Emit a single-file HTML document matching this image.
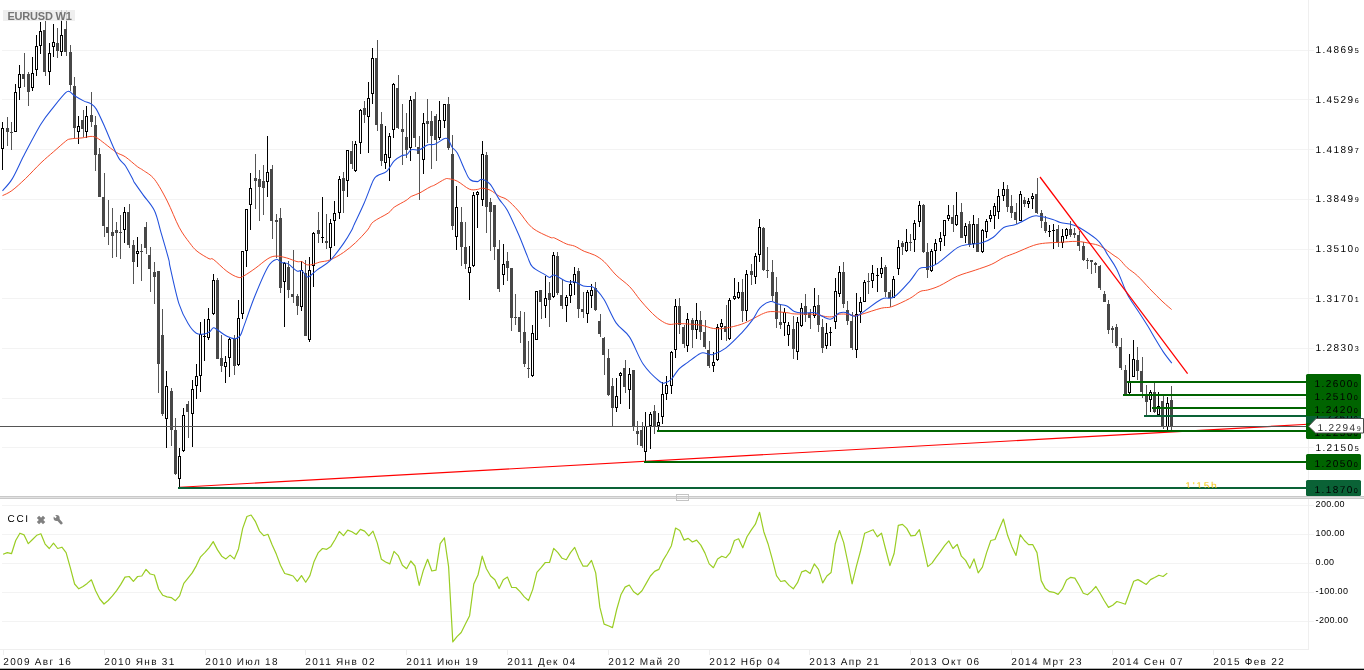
<!DOCTYPE html>
<html><head><meta charset="utf-8"><title>EURUSD W1</title>
<style>
html,body{margin:0;padding:0;background:#fff;}
body{width:1364px;height:670px;overflow:hidden;position:relative;font-family:"Liberation Sans",sans-serif;}
#c{position:absolute;left:0;top:0;width:1364px;height:670px;overflow:hidden;background:#fff;}
#tx{position:absolute;left:0;top:0;width:1364px;height:670px;filter:grayscale(1);}
.pl{position:absolute;text-rendering:geometricPrecision;font-size:10px;line-height:14px;height:14px;letter-spacing:1.44px;white-space:nowrap;color:#000;}
.pl .sm{font-size:7.2px;letter-spacing:0;margin-left:0px;}
.cl{position:absolute;font-size:9px;line-height:12px;height:12px;white-space:nowrap;color:#000;letter-spacing:0.3px;}
.dl{position:absolute;text-rendering:geometricPrecision;font-size:10px;line-height:13px;height:13px;letter-spacing:1.3px;white-space:nowrap;color:#111;}
#ttl{position:absolute;left:3px;top:10px;width:72px;height:11px;background:rgba(236,236,236,0.85);}
#ttl span{position:absolute;left:4.5px;top:0px;font-size:11px;line-height:13px;font-weight:bold;color:#757575;white-space:nowrap;letter-spacing:-0.22px;}
#cci{position:absolute;text-rendering:geometricPrecision;left:7.6px;top:513px;font-size:10px;line-height:13px;letter-spacing:1.6px;color:#000;}
#tm{position:absolute;text-rendering:geometricPrecision;left:1185.6px;top:480px;font-size:10px;line-height:13px;letter-spacing:1.75px;color:#f5c400;height:8px;overflow:hidden;}
#bb{position:absolute;left:0;top:668px;width:1364px;height:2px;background:#000;}
</style></head><body><div id="c">
<svg width="1364" height="670" viewBox="0 0 1364 670" style="position:absolute;left:0;top:0">
<g shape-rendering="crispEdges" fill="#f3f3f3">
<rect x="2" y="50" width="1312" height="1"/>
<rect x="2" y="99" width="1312" height="1"/>
<rect x="2" y="149" width="1312" height="1"/>
<rect x="2" y="199" width="1312" height="1"/>
<rect x="2" y="249" width="1312" height="1"/>
<rect x="2" y="298" width="1312" height="1"/>
<rect x="2" y="348" width="1312" height="1"/>
<rect x="2" y="398" width="1312" height="1"/>
<rect x="2" y="447" width="1312" height="1"/>
<rect x="2" y="505" width="1312" height="1"/>
<rect x="2" y="534" width="1312" height="1"/>
<rect x="2" y="563" width="1312" height="1"/>
<rect x="2" y="592" width="1312" height="1"/>
<rect x="2" y="621" width="1312" height="1"/>
<rect x="1308" y="0" width="1" height="650" fill="#efefef"/>
<rect x="0" y="649" width="1309" height="1" fill="#efefef"/>
<rect x="3" y="649" width="1" height="6" fill="#efefef"/>
<rect x="104" y="649" width="1" height="6" fill="#efefef"/>
<rect x="205" y="649" width="1" height="6" fill="#efefef"/>
<rect x="305" y="649" width="1" height="6" fill="#efefef"/>
<rect x="406" y="649" width="1" height="6" fill="#efefef"/>
<rect x="507" y="649" width="1" height="6" fill="#efefef"/>
<rect x="608" y="649" width="1" height="6" fill="#efefef"/>
<rect x="709" y="649" width="1" height="6" fill="#efefef"/>
<rect x="809" y="649" width="1" height="6" fill="#efefef"/>
<rect x="910" y="649" width="1" height="6" fill="#efefef"/>
<rect x="1011" y="649" width="1" height="6" fill="#efefef"/>
<rect x="1112" y="649" width="1" height="6" fill="#efefef"/>
<rect x="1213" y="649" width="1" height="6" fill="#efefef"/>
</g>
<g shape-rendering="crispEdges">
<rect x="2" y="122" width="1" height="6" fill="#000"/>
<rect x="2" y="149" width="1" height="21" fill="#000"/>
<rect x="1" y="128" width="3" height="21" fill="#000"/>
<rect x="2" y="129" width="1" height="19" fill="#fff"/>
<rect x="7" y="117" width="1" height="29" fill="#555555"/>
<rect x="6" y="128" width="3" height="4" fill="#474747"/>
<rect x="11" y="122" width="1" height="28" fill="#555555"/>
<rect x="10" y="132" width="3" height="1" fill="#474747"/>
<rect x="15" y="84" width="1" height="8" fill="#000"/>
<rect x="14" y="92" width="3" height="40" fill="#000"/>
<rect x="15" y="93" width="1" height="38" fill="#fff"/>
<rect x="19" y="65" width="1" height="9" fill="#000"/>
<rect x="19" y="88" width="1" height="12" fill="#000"/>
<rect x="18" y="74" width="3" height="14" fill="#000"/>
<rect x="19" y="75" width="1" height="12" fill="#fff"/>
<rect x="24" y="53" width="1" height="34" fill="#555555"/>
<rect x="22" y="74" width="3" height="5" fill="#474747"/>
<rect x="28" y="72" width="1" height="34" fill="#555555"/>
<rect x="27" y="74" width="3" height="18" fill="#474747"/>
<rect x="32" y="57" width="1" height="16" fill="#000"/>
<rect x="32" y="88" width="1" height="3" fill="#000"/>
<rect x="31" y="73" width="3" height="15" fill="#000"/>
<rect x="32" y="74" width="1" height="13" fill="#fff"/>
<rect x="36" y="35" width="1" height="11" fill="#000"/>
<rect x="36" y="70" width="1" height="6" fill="#000"/>
<rect x="35" y="46" width="3" height="24" fill="#000"/>
<rect x="36" y="47" width="1" height="22" fill="#fff"/>
<rect x="40" y="22" width="1" height="9" fill="#000"/>
<rect x="40" y="46" width="1" height="8" fill="#000"/>
<rect x="39" y="31" width="3" height="15" fill="#000"/>
<rect x="40" y="32" width="1" height="13" fill="#fff"/>
<rect x="45" y="21" width="1" height="55" fill="#555555"/>
<rect x="43" y="30" width="3" height="42" fill="#474747"/>
<rect x="49" y="43" width="1" height="10" fill="#000"/>
<rect x="49" y="72" width="1" height="13" fill="#000"/>
<rect x="48" y="53" width="3" height="19" fill="#000"/>
<rect x="49" y="54" width="1" height="17" fill="#fff"/>
<rect x="53" y="24" width="1" height="18" fill="#000"/>
<rect x="53" y="47" width="1" height="10" fill="#000"/>
<rect x="52" y="42" width="3" height="5" fill="#000"/>
<rect x="53" y="43" width="1" height="3" fill="#fff"/>
<rect x="57" y="28" width="1" height="30" fill="#555555"/>
<rect x="56" y="43" width="3" height="8" fill="#474747"/>
<rect x="61" y="10" width="1" height="25" fill="#000"/>
<rect x="61" y="52" width="1" height="4" fill="#000"/>
<rect x="60" y="35" width="3" height="17" fill="#000"/>
<rect x="61" y="36" width="1" height="15" fill="#fff"/>
<rect x="66" y="10" width="1" height="46" fill="#555555"/>
<rect x="64" y="29" width="3" height="23" fill="#474747"/>
<rect x="70" y="45" width="1" height="46" fill="#555555"/>
<rect x="69" y="52" width="3" height="33" fill="#474747"/>
<rect x="74" y="77" width="1" height="61" fill="#555555"/>
<rect x="73" y="86" width="3" height="42" fill="#474747"/>
<rect x="78" y="116" width="1" height="10" fill="#000"/>
<rect x="78" y="132" width="1" height="12" fill="#000"/>
<rect x="77" y="126" width="3" height="6" fill="#000"/>
<rect x="78" y="127" width="1" height="4" fill="#fff"/>
<rect x="83" y="110" width="1" height="27" fill="#555555"/>
<rect x="81" y="120" width="3" height="9" fill="#474747"/>
<rect x="86" y="106" width="1" height="10" fill="#000"/>
<rect x="86" y="132" width="1" height="6" fill="#000"/>
<rect x="85" y="116" width="3" height="16" fill="#000"/>
<rect x="86" y="117" width="1" height="14" fill="#fff"/>
<rect x="91" y="92" width="1" height="35" fill="#555555"/>
<rect x="90" y="115" width="3" height="7" fill="#474747"/>
<rect x="95" y="116" width="1" height="55" fill="#555555"/>
<rect x="94" y="125" width="3" height="30" fill="#474747"/>
<rect x="99" y="148" width="1" height="49" fill="#555555"/>
<rect x="98" y="154" width="3" height="43" fill="#474747"/>
<rect x="104" y="173" width="1" height="64" fill="#555555"/>
<rect x="102" y="197" width="3" height="29" fill="#474747"/>
<rect x="108" y="200" width="1" height="45" fill="#555555"/>
<rect x="106" y="227" width="3" height="6" fill="#474747"/>
<rect x="112" y="208" width="1" height="50" fill="#555555"/>
<rect x="111" y="232" width="3" height="4" fill="#474747"/>
<rect x="116" y="222" width="1" height="35" fill="#555555"/>
<rect x="115" y="230" width="3" height="3" fill="#474747"/>
<rect x="120" y="215" width="1" height="44" fill="#555555"/>
<rect x="119" y="232" width="3" height="1" fill="#474747"/>
<rect x="124" y="207" width="1" height="5" fill="#000"/>
<rect x="124" y="230" width="1" height="13" fill="#000"/>
<rect x="123" y="212" width="3" height="18" fill="#000"/>
<rect x="124" y="213" width="1" height="16" fill="#fff"/>
<rect x="129" y="204" width="1" height="44" fill="#555555"/>
<rect x="127" y="212" width="3" height="33" fill="#474747"/>
<rect x="133" y="240" width="1" height="44" fill="#555555"/>
<rect x="132" y="245" width="3" height="17" fill="#474747"/>
<rect x="137" y="237" width="1" height="14" fill="#000"/>
<rect x="137" y="254" width="1" height="13" fill="#000"/>
<rect x="136" y="251" width="3" height="3" fill="#000"/>
<rect x="137" y="252" width="1" height="1" fill="#fff"/>
<rect x="141" y="244" width="1" height="37" fill="#555555"/>
<rect x="140" y="251" width="3" height="1" fill="#474747"/>
<rect x="146" y="222" width="1" height="32" fill="#555555"/>
<rect x="144" y="227" width="3" height="21" fill="#474747"/>
<rect x="150" y="247" width="1" height="45" fill="#555555"/>
<rect x="148" y="255" width="3" height="14" fill="#474747"/>
<rect x="154" y="262" width="1" height="42" fill="#555555"/>
<rect x="153" y="272" width="3" height="5" fill="#474747"/>
<rect x="158" y="271" width="1" height="122" fill="#555555"/>
<rect x="157" y="271" width="3" height="93" fill="#474747"/>
<rect x="162" y="309" width="1" height="107" fill="#555555"/>
<rect x="161" y="335" width="3" height="79" fill="#474747"/>
<rect x="166" y="371" width="1" height="15" fill="#000"/>
<rect x="166" y="419" width="1" height="29" fill="#000"/>
<rect x="165" y="386" width="3" height="33" fill="#000"/>
<rect x="166" y="387" width="1" height="31" fill="#fff"/>
<rect x="171" y="388" width="1" height="58" fill="#555555"/>
<rect x="170" y="391" width="3" height="39" fill="#474747"/>
<rect x="175" y="418" width="1" height="57" fill="#555555"/>
<rect x="174" y="430" width="3" height="44" fill="#474747"/>
<rect x="179" y="448" width="1" height="8" fill="#000"/>
<rect x="179" y="479" width="1" height="8" fill="#000"/>
<rect x="178" y="456" width="3" height="23" fill="#000"/>
<rect x="179" y="457" width="1" height="21" fill="#fff"/>
<rect x="183" y="408" width="1" height="7" fill="#000"/>
<rect x="183" y="451" width="1" height="1" fill="#000"/>
<rect x="182" y="415" width="3" height="36" fill="#000"/>
<rect x="183" y="416" width="1" height="34" fill="#fff"/>
<rect x="188" y="401" width="1" height="37" fill="#555555"/>
<rect x="186" y="404" width="3" height="8" fill="#474747"/>
<rect x="192" y="380" width="1" height="9" fill="#000"/>
<rect x="192" y="414" width="1" height="33" fill="#000"/>
<rect x="191" y="389" width="3" height="25" fill="#000"/>
<rect x="192" y="390" width="1" height="23" fill="#fff"/>
<rect x="196" y="364" width="1" height="12" fill="#000"/>
<rect x="196" y="386" width="1" height="13" fill="#000"/>
<rect x="195" y="376" width="3" height="10" fill="#000"/>
<rect x="196" y="377" width="1" height="8" fill="#fff"/>
<rect x="200" y="322" width="1" height="12" fill="#000"/>
<rect x="200" y="376" width="1" height="16" fill="#000"/>
<rect x="199" y="334" width="3" height="42" fill="#000"/>
<rect x="200" y="335" width="1" height="40" fill="#fff"/>
<rect x="204" y="319" width="1" height="42" fill="#000"/>
<rect x="203" y="336" width="3" height="1" fill="#000"/>
<rect x="208" y="308" width="1" height="11" fill="#000"/>
<rect x="208" y="338" width="1" height="2" fill="#000"/>
<rect x="207" y="319" width="3" height="19" fill="#000"/>
<rect x="208" y="320" width="1" height="17" fill="#fff"/>
<rect x="213" y="274" width="1" height="6" fill="#000"/>
<rect x="213" y="314" width="1" height="1" fill="#000"/>
<rect x="212" y="280" width="3" height="34" fill="#000"/>
<rect x="213" y="281" width="1" height="32" fill="#fff"/>
<rect x="217" y="278" width="1" height="81" fill="#555555"/>
<rect x="216" y="280" width="3" height="79" fill="#474747"/>
<rect x="221" y="335" width="1" height="37" fill="#555555"/>
<rect x="220" y="358" width="3" height="8" fill="#474747"/>
<rect x="225" y="356" width="1" height="6" fill="#000"/>
<rect x="225" y="367" width="1" height="16" fill="#000"/>
<rect x="224" y="362" width="3" height="5" fill="#000"/>
<rect x="225" y="363" width="1" height="3" fill="#fff"/>
<rect x="229" y="338" width="1" height="1" fill="#000"/>
<rect x="229" y="358" width="1" height="19" fill="#000"/>
<rect x="228" y="339" width="3" height="19" fill="#000"/>
<rect x="229" y="340" width="1" height="17" fill="#fff"/>
<rect x="234" y="335" width="1" height="40" fill="#555555"/>
<rect x="233" y="339" width="3" height="27" fill="#474747"/>
<rect x="238" y="300" width="1" height="18" fill="#000"/>
<rect x="238" y="365" width="1" height="1" fill="#000"/>
<rect x="237" y="318" width="3" height="47" fill="#000"/>
<rect x="238" y="319" width="1" height="45" fill="#fff"/>
<rect x="242" y="314" width="1" height="5" fill="#000"/>
<rect x="241" y="251" width="3" height="63" fill="#000"/>
<rect x="242" y="252" width="1" height="61" fill="#fff"/>
<rect x="246" y="251" width="1" height="16" fill="#000"/>
<rect x="245" y="209" width="3" height="42" fill="#000"/>
<rect x="246" y="210" width="1" height="40" fill="#fff"/>
<rect x="250" y="173" width="1" height="15" fill="#000"/>
<rect x="250" y="205" width="1" height="25" fill="#000"/>
<rect x="249" y="188" width="3" height="17" fill="#000"/>
<rect x="250" y="189" width="1" height="15" fill="#fff"/>
<rect x="255" y="154" width="1" height="55" fill="#555555"/>
<rect x="254" y="178" width="3" height="3" fill="#474747"/>
<rect x="259" y="170" width="1" height="51" fill="#555555"/>
<rect x="258" y="179" width="3" height="8" fill="#474747"/>
<rect x="263" y="165" width="1" height="50" fill="#555555"/>
<rect x="262" y="181" width="3" height="7" fill="#474747"/>
<rect x="267" y="136" width="1" height="36" fill="#000"/>
<rect x="267" y="182" width="1" height="15" fill="#000"/>
<rect x="266" y="172" width="3" height="10" fill="#000"/>
<rect x="267" y="173" width="1" height="8" fill="#fff"/>
<rect x="272" y="165" width="1" height="74" fill="#555555"/>
<rect x="270" y="169" width="3" height="52" fill="#474747"/>
<rect x="276" y="214" width="1" height="44" fill="#555555"/>
<rect x="275" y="220" width="3" height="2" fill="#474747"/>
<rect x="280" y="208" width="1" height="85" fill="#555555"/>
<rect x="279" y="218" width="3" height="70" fill="#474747"/>
<rect x="284" y="262" width="1" height="1" fill="#000"/>
<rect x="284" y="282" width="1" height="45" fill="#000"/>
<rect x="283" y="263" width="3" height="19" fill="#000"/>
<rect x="284" y="264" width="1" height="17" fill="#fff"/>
<rect x="288" y="261" width="1" height="37" fill="#555555"/>
<rect x="287" y="267" width="3" height="23" fill="#474747"/>
<rect x="293" y="250" width="1" height="53" fill="#555555"/>
<rect x="291" y="294" width="3" height="3" fill="#474747"/>
<rect x="297" y="294" width="1" height="21" fill="#555555"/>
<rect x="296" y="296" width="3" height="10" fill="#474747"/>
<rect x="301" y="261" width="1" height="9" fill="#000"/>
<rect x="301" y="307" width="1" height="4" fill="#000"/>
<rect x="300" y="270" width="3" height="37" fill="#000"/>
<rect x="301" y="271" width="1" height="35" fill="#fff"/>
<rect x="305" y="260" width="1" height="76" fill="#555555"/>
<rect x="304" y="273" width="3" height="63" fill="#474747"/>
<rect x="309" y="257" width="1" height="13" fill="#000"/>
<rect x="309" y="340" width="1" height="2" fill="#000"/>
<rect x="308" y="270" width="3" height="70" fill="#000"/>
<rect x="309" y="271" width="1" height="68" fill="#fff"/>
<rect x="313" y="232" width="1" height="1" fill="#000"/>
<rect x="313" y="266" width="1" height="21" fill="#000"/>
<rect x="312" y="233" width="3" height="33" fill="#000"/>
<rect x="313" y="234" width="1" height="31" fill="#fff"/>
<rect x="318" y="212" width="1" height="31" fill="#555555"/>
<rect x="317" y="230" width="3" height="4" fill="#474747"/>
<rect x="322" y="197" width="1" height="46" fill="#000"/>
<rect x="321" y="237" width="3" height="1" fill="#000"/>
<rect x="326" y="214" width="1" height="35" fill="#555555"/>
<rect x="325" y="241" width="3" height="2" fill="#474747"/>
<rect x="330" y="219" width="1" height="4" fill="#000"/>
<rect x="330" y="248" width="1" height="12" fill="#000"/>
<rect x="329" y="223" width="3" height="25" fill="#000"/>
<rect x="330" y="224" width="1" height="23" fill="#fff"/>
<rect x="334" y="201" width="1" height="12" fill="#000"/>
<rect x="334" y="221" width="1" height="25" fill="#000"/>
<rect x="333" y="213" width="3" height="8" fill="#000"/>
<rect x="334" y="214" width="1" height="6" fill="#fff"/>
<rect x="339" y="176" width="1" height="3" fill="#000"/>
<rect x="339" y="213" width="1" height="6" fill="#000"/>
<rect x="338" y="179" width="3" height="34" fill="#000"/>
<rect x="339" y="180" width="1" height="32" fill="#fff"/>
<rect x="343" y="172" width="1" height="41" fill="#555555"/>
<rect x="342" y="178" width="3" height="13" fill="#474747"/>
<rect x="347" y="181" width="1" height="16" fill="#000"/>
<rect x="346" y="150" width="3" height="31" fill="#000"/>
<rect x="347" y="151" width="1" height="29" fill="#fff"/>
<rect x="352" y="141" width="1" height="28" fill="#555555"/>
<rect x="350" y="151" width="3" height="13" fill="#474747"/>
<rect x="355" y="141" width="1" height="3" fill="#000"/>
<rect x="355" y="171" width="1" height="1" fill="#000"/>
<rect x="354" y="144" width="3" height="27" fill="#000"/>
<rect x="355" y="145" width="1" height="25" fill="#fff"/>
<rect x="360" y="109" width="1" height="1" fill="#000"/>
<rect x="360" y="143" width="1" height="11" fill="#000"/>
<rect x="359" y="110" width="3" height="33" fill="#000"/>
<rect x="360" y="111" width="1" height="31" fill="#fff"/>
<rect x="364" y="101" width="1" height="22" fill="#555555"/>
<rect x="363" y="108" width="3" height="7" fill="#474747"/>
<rect x="368" y="82" width="1" height="16" fill="#000"/>
<rect x="368" y="117" width="1" height="36" fill="#000"/>
<rect x="367" y="98" width="3" height="19" fill="#000"/>
<rect x="368" y="99" width="1" height="17" fill="#fff"/>
<rect x="372" y="48" width="1" height="10" fill="#000"/>
<rect x="372" y="94" width="1" height="10" fill="#000"/>
<rect x="371" y="58" width="3" height="36" fill="#000"/>
<rect x="372" y="59" width="1" height="34" fill="#fff"/>
<rect x="377" y="40" width="1" height="91" fill="#555555"/>
<rect x="375" y="58" width="3" height="67" fill="#474747"/>
<rect x="381" y="112" width="1" height="54" fill="#555555"/>
<rect x="380" y="124" width="3" height="37" fill="#474747"/>
<rect x="385" y="126" width="1" height="28" fill="#000"/>
<rect x="385" y="163" width="1" height="6" fill="#000"/>
<rect x="384" y="154" width="3" height="9" fill="#000"/>
<rect x="385" y="155" width="1" height="7" fill="#fff"/>
<rect x="389" y="133" width="1" height="3" fill="#000"/>
<rect x="389" y="158" width="1" height="23" fill="#000"/>
<rect x="388" y="136" width="3" height="22" fill="#000"/>
<rect x="389" y="137" width="1" height="20" fill="#fff"/>
<rect x="393" y="83" width="1" height="1" fill="#000"/>
<rect x="393" y="130" width="1" height="8" fill="#000"/>
<rect x="392" y="84" width="3" height="46" fill="#000"/>
<rect x="393" y="85" width="1" height="44" fill="#fff"/>
<rect x="398" y="75" width="1" height="54" fill="#555555"/>
<rect x="396" y="88" width="3" height="40" fill="#474747"/>
<rect x="402" y="104" width="1" height="61" fill="#555555"/>
<rect x="401" y="129" width="3" height="3" fill="#474747"/>
<rect x="406" y="113" width="1" height="45" fill="#555555"/>
<rect x="405" y="137" width="3" height="13" fill="#474747"/>
<rect x="410" y="96" width="1" height="4" fill="#000"/>
<rect x="410" y="148" width="1" height="13" fill="#000"/>
<rect x="409" y="100" width="3" height="48" fill="#000"/>
<rect x="410" y="101" width="1" height="46" fill="#fff"/>
<rect x="415" y="92" width="1" height="55" fill="#555555"/>
<rect x="413" y="99" width="3" height="39" fill="#474747"/>
<rect x="419" y="136" width="1" height="64" fill="#555555"/>
<rect x="417" y="147" width="3" height="7" fill="#474747"/>
<rect x="423" y="113" width="1" height="10" fill="#000"/>
<rect x="423" y="160" width="1" height="14" fill="#000"/>
<rect x="422" y="123" width="3" height="37" fill="#000"/>
<rect x="423" y="124" width="1" height="35" fill="#fff"/>
<rect x="427" y="99" width="1" height="44" fill="#555555"/>
<rect x="426" y="121" width="3" height="3" fill="#474747"/>
<rect x="431" y="111" width="1" height="58" fill="#555555"/>
<rect x="430" y="121" width="3" height="15" fill="#474747"/>
<rect x="436" y="114" width="1" height="47" fill="#555555"/>
<rect x="434" y="116" width="3" height="24" fill="#474747"/>
<rect x="439" y="101" width="1" height="19" fill="#000"/>
<rect x="439" y="138" width="1" height="2" fill="#000"/>
<rect x="438" y="120" width="3" height="18" fill="#000"/>
<rect x="439" y="121" width="1" height="16" fill="#fff"/>
<rect x="444" y="121" width="1" height="7" fill="#000"/>
<rect x="443" y="104" width="3" height="17" fill="#000"/>
<rect x="444" y="105" width="1" height="15" fill="#fff"/>
<rect x="448" y="97" width="1" height="53" fill="#555555"/>
<rect x="447" y="104" width="3" height="44" fill="#474747"/>
<rect x="452" y="135" width="1" height="95" fill="#555555"/>
<rect x="451" y="154" width="3" height="72" fill="#474747"/>
<rect x="456" y="186" width="1" height="21" fill="#000"/>
<rect x="456" y="237" width="1" height="13" fill="#000"/>
<rect x="455" y="207" width="3" height="30" fill="#000"/>
<rect x="456" y="208" width="1" height="28" fill="#fff"/>
<rect x="461" y="207" width="1" height="59" fill="#555555"/>
<rect x="460" y="222" width="3" height="25" fill="#474747"/>
<rect x="465" y="222" width="1" height="47" fill="#555555"/>
<rect x="464" y="247" width="3" height="17" fill="#474747"/>
<rect x="469" y="246" width="1" height="21" fill="#000"/>
<rect x="469" y="273" width="1" height="27" fill="#000"/>
<rect x="468" y="267" width="3" height="6" fill="#000"/>
<rect x="469" y="268" width="1" height="4" fill="#fff"/>
<rect x="473" y="192" width="1" height="3" fill="#000"/>
<rect x="473" y="266" width="1" height="1" fill="#000"/>
<rect x="472" y="195" width="3" height="71" fill="#000"/>
<rect x="473" y="196" width="1" height="69" fill="#fff"/>
<rect x="477" y="191" width="1" height="1" fill="#000"/>
<rect x="477" y="195" width="1" height="33" fill="#000"/>
<rect x="476" y="192" width="3" height="3" fill="#000"/>
<rect x="477" y="193" width="1" height="1" fill="#fff"/>
<rect x="482" y="141" width="1" height="13" fill="#000"/>
<rect x="482" y="200" width="1" height="6" fill="#000"/>
<rect x="481" y="154" width="3" height="46" fill="#000"/>
<rect x="482" y="155" width="1" height="44" fill="#fff"/>
<rect x="486" y="152" width="1" height="81" fill="#555555"/>
<rect x="485" y="155" width="3" height="52" fill="#474747"/>
<rect x="490" y="198" width="1" height="53" fill="#555555"/>
<rect x="489" y="202" width="3" height="10" fill="#474747"/>
<rect x="494" y="205" width="1" height="55" fill="#555555"/>
<rect x="493" y="205" width="3" height="42" fill="#474747"/>
<rect x="499" y="240" width="1" height="52" fill="#555555"/>
<rect x="497" y="249" width="3" height="40" fill="#474747"/>
<rect x="503" y="244" width="1" height="20" fill="#000"/>
<rect x="503" y="275" width="1" height="10" fill="#000"/>
<rect x="502" y="264" width="3" height="11" fill="#000"/>
<rect x="503" y="265" width="1" height="9" fill="#fff"/>
<rect x="507" y="252" width="1" height="29" fill="#555555"/>
<rect x="506" y="261" width="3" height="7" fill="#474747"/>
<rect x="511" y="268" width="1" height="63" fill="#555555"/>
<rect x="510" y="268" width="3" height="50" fill="#474747"/>
<rect x="515" y="294" width="1" height="31" fill="#555555"/>
<rect x="514" y="317" width="3" height="1" fill="#474747"/>
<rect x="520" y="311" width="1" height="32" fill="#555555"/>
<rect x="518" y="317" width="3" height="15" fill="#474747"/>
<rect x="524" y="312" width="1" height="55" fill="#555555"/>
<rect x="523" y="332" width="3" height="32" fill="#474747"/>
<rect x="528" y="341" width="1" height="37" fill="#555555"/>
<rect x="527" y="368" width="3" height="1" fill="#474747"/>
<rect x="532" y="325" width="1" height="8" fill="#000"/>
<rect x="532" y="376" width="1" height="1" fill="#000"/>
<rect x="531" y="333" width="3" height="43" fill="#000"/>
<rect x="532" y="334" width="1" height="41" fill="#fff"/>
<rect x="535" y="291" width="3" height="49" fill="#000"/>
<rect x="536" y="292" width="1" height="47" fill="#fff"/>
<rect x="541" y="290" width="1" height="29" fill="#555555"/>
<rect x="539" y="290" width="3" height="12" fill="#474747"/>
<rect x="545" y="276" width="1" height="22" fill="#000"/>
<rect x="545" y="306" width="1" height="12" fill="#000"/>
<rect x="544" y="298" width="3" height="8" fill="#000"/>
<rect x="545" y="299" width="1" height="6" fill="#fff"/>
<rect x="549" y="282" width="1" height="45" fill="#555555"/>
<rect x="548" y="293" width="3" height="7" fill="#474747"/>
<rect x="553" y="252" width="1" height="3" fill="#000"/>
<rect x="553" y="297" width="1" height="1" fill="#000"/>
<rect x="552" y="255" width="3" height="42" fill="#000"/>
<rect x="553" y="256" width="1" height="40" fill="#fff"/>
<rect x="557" y="252" width="1" height="43" fill="#555555"/>
<rect x="556" y="256" width="3" height="37" fill="#474747"/>
<rect x="562" y="280" width="1" height="29" fill="#555555"/>
<rect x="560" y="295" width="3" height="11" fill="#474747"/>
<rect x="566" y="295" width="1" height="2" fill="#000"/>
<rect x="566" y="306" width="1" height="16" fill="#000"/>
<rect x="565" y="297" width="3" height="9" fill="#000"/>
<rect x="566" y="298" width="1" height="7" fill="#fff"/>
<rect x="570" y="280" width="1" height="4" fill="#000"/>
<rect x="570" y="296" width="1" height="7" fill="#000"/>
<rect x="569" y="284" width="3" height="12" fill="#000"/>
<rect x="570" y="285" width="1" height="10" fill="#fff"/>
<rect x="574" y="267" width="1" height="7" fill="#000"/>
<rect x="574" y="283" width="1" height="12" fill="#000"/>
<rect x="573" y="274" width="3" height="9" fill="#000"/>
<rect x="574" y="275" width="1" height="7" fill="#fff"/>
<rect x="578" y="268" width="1" height="50" fill="#555555"/>
<rect x="577" y="271" width="3" height="38" fill="#474747"/>
<rect x="583" y="292" width="1" height="26" fill="#555555"/>
<rect x="581" y="309" width="3" height="3" fill="#474747"/>
<rect x="587" y="290" width="1" height="2" fill="#000"/>
<rect x="587" y="314" width="1" height="9" fill="#000"/>
<rect x="586" y="292" width="3" height="22" fill="#000"/>
<rect x="587" y="293" width="1" height="20" fill="#fff"/>
<rect x="591" y="284" width="1" height="6" fill="#000"/>
<rect x="591" y="296" width="1" height="12" fill="#000"/>
<rect x="590" y="290" width="3" height="6" fill="#000"/>
<rect x="591" y="291" width="1" height="4" fill="#fff"/>
<rect x="595" y="282" width="1" height="29" fill="#555555"/>
<rect x="594" y="288" width="3" height="22" fill="#474747"/>
<rect x="600" y="314" width="1" height="23" fill="#555555"/>
<rect x="598" y="321" width="3" height="13" fill="#474747"/>
<rect x="604" y="337" width="1" height="38" fill="#555555"/>
<rect x="602" y="338" width="3" height="17" fill="#474747"/>
<rect x="608" y="349" width="1" height="47" fill="#555555"/>
<rect x="607" y="358" width="3" height="37" fill="#474747"/>
<rect x="612" y="378" width="1" height="48" fill="#555555"/>
<rect x="611" y="386" width="3" height="22" fill="#474747"/>
<rect x="616" y="378" width="1" height="18" fill="#000"/>
<rect x="616" y="408" width="1" height="4" fill="#000"/>
<rect x="615" y="396" width="3" height="12" fill="#000"/>
<rect x="616" y="397" width="1" height="10" fill="#fff"/>
<rect x="620" y="372" width="1" height="1" fill="#000"/>
<rect x="620" y="376" width="1" height="28" fill="#000"/>
<rect x="619" y="373" width="3" height="3" fill="#000"/>
<rect x="620" y="374" width="1" height="1" fill="#fff"/>
<rect x="625" y="360" width="1" height="33" fill="#555555"/>
<rect x="623" y="368" width="3" height="19" fill="#474747"/>
<rect x="629" y="368" width="1" height="6" fill="#000"/>
<rect x="629" y="390" width="1" height="19" fill="#000"/>
<rect x="628" y="374" width="3" height="16" fill="#000"/>
<rect x="629" y="375" width="1" height="14" fill="#fff"/>
<rect x="633" y="370" width="1" height="61" fill="#555555"/>
<rect x="632" y="370" width="3" height="57" fill="#474747"/>
<rect x="637" y="421" width="1" height="24" fill="#555555"/>
<rect x="636" y="431" width="3" height="3" fill="#474747"/>
<rect x="642" y="422" width="1" height="26" fill="#555555"/>
<rect x="640" y="430" width="3" height="16" fill="#474747"/>
<rect x="645" y="412" width="1" height="14" fill="#000"/>
<rect x="645" y="452" width="1" height="9" fill="#000"/>
<rect x="644" y="426" width="3" height="26" fill="#000"/>
<rect x="645" y="427" width="1" height="24" fill="#fff"/>
<rect x="650" y="412" width="1" height="2" fill="#000"/>
<rect x="650" y="426" width="1" height="23" fill="#000"/>
<rect x="649" y="414" width="3" height="12" fill="#000"/>
<rect x="650" y="415" width="1" height="10" fill="#fff"/>
<rect x="654" y="405" width="1" height="29" fill="#555555"/>
<rect x="653" y="411" width="3" height="15" fill="#474747"/>
<rect x="658" y="413" width="1" height="9" fill="#000"/>
<rect x="658" y="426" width="1" height="4" fill="#000"/>
<rect x="657" y="422" width="3" height="4" fill="#000"/>
<rect x="658" y="423" width="1" height="2" fill="#fff"/>
<rect x="662" y="382" width="1" height="12" fill="#000"/>
<rect x="662" y="417" width="1" height="7" fill="#000"/>
<rect x="661" y="394" width="3" height="23" fill="#000"/>
<rect x="662" y="395" width="1" height="21" fill="#fff"/>
<rect x="666" y="376" width="1" height="9" fill="#000"/>
<rect x="666" y="394" width="1" height="6" fill="#000"/>
<rect x="665" y="385" width="3" height="9" fill="#000"/>
<rect x="666" y="386" width="1" height="7" fill="#fff"/>
<rect x="671" y="351" width="1" height="1" fill="#000"/>
<rect x="671" y="386" width="1" height="8" fill="#000"/>
<rect x="670" y="352" width="3" height="34" fill="#000"/>
<rect x="671" y="353" width="1" height="32" fill="#fff"/>
<rect x="675" y="299" width="1" height="7" fill="#000"/>
<rect x="675" y="350" width="1" height="8" fill="#000"/>
<rect x="674" y="306" width="3" height="44" fill="#000"/>
<rect x="675" y="307" width="1" height="42" fill="#fff"/>
<rect x="679" y="298" width="1" height="36" fill="#555555"/>
<rect x="678" y="306" width="3" height="19" fill="#474747"/>
<rect x="684" y="325" width="1" height="23" fill="#555555"/>
<rect x="682" y="327" width="3" height="17" fill="#474747"/>
<rect x="687" y="313" width="1" height="6" fill="#000"/>
<rect x="687" y="346" width="1" height="6" fill="#000"/>
<rect x="686" y="319" width="3" height="27" fill="#000"/>
<rect x="687" y="320" width="1" height="25" fill="#fff"/>
<rect x="692" y="318" width="1" height="30" fill="#555555"/>
<rect x="691" y="320" width="3" height="10" fill="#474747"/>
<rect x="696" y="303" width="1" height="17" fill="#000"/>
<rect x="696" y="330" width="1" height="9" fill="#000"/>
<rect x="695" y="320" width="3" height="10" fill="#000"/>
<rect x="696" y="321" width="1" height="8" fill="#fff"/>
<rect x="700" y="311" width="1" height="29" fill="#555555"/>
<rect x="699" y="320" width="3" height="12" fill="#474747"/>
<rect x="705" y="320" width="1" height="29" fill="#555555"/>
<rect x="703" y="332" width="3" height="15" fill="#474747"/>
<rect x="709" y="341" width="1" height="27" fill="#555555"/>
<rect x="707" y="350" width="3" height="16" fill="#474747"/>
<rect x="713" y="352" width="1" height="10" fill="#000"/>
<rect x="713" y="366" width="1" height="6" fill="#000"/>
<rect x="712" y="362" width="3" height="4" fill="#000"/>
<rect x="713" y="363" width="1" height="2" fill="#fff"/>
<rect x="717" y="324" width="1" height="3" fill="#000"/>
<rect x="717" y="360" width="1" height="1" fill="#000"/>
<rect x="716" y="327" width="3" height="33" fill="#000"/>
<rect x="717" y="328" width="1" height="31" fill="#fff"/>
<rect x="721" y="319" width="1" height="4" fill="#000"/>
<rect x="721" y="327" width="1" height="13" fill="#000"/>
<rect x="720" y="323" width="3" height="4" fill="#000"/>
<rect x="721" y="324" width="1" height="2" fill="#fff"/>
<rect x="726" y="305" width="1" height="36" fill="#555555"/>
<rect x="724" y="326" width="3" height="6" fill="#474747"/>
<rect x="729" y="298" width="1" height="2" fill="#000"/>
<rect x="729" y="339" width="1" height="1" fill="#000"/>
<rect x="728" y="300" width="3" height="39" fill="#000"/>
<rect x="729" y="301" width="1" height="37" fill="#fff"/>
<rect x="734" y="278" width="1" height="18" fill="#000"/>
<rect x="734" y="299" width="1" height="1" fill="#000"/>
<rect x="733" y="296" width="3" height="3" fill="#000"/>
<rect x="734" y="297" width="1" height="1" fill="#fff"/>
<rect x="738" y="282" width="1" height="10" fill="#000"/>
<rect x="738" y="298" width="1" height="1" fill="#000"/>
<rect x="737" y="292" width="3" height="6" fill="#000"/>
<rect x="738" y="293" width="1" height="4" fill="#fff"/>
<rect x="742" y="279" width="1" height="43" fill="#555555"/>
<rect x="741" y="292" width="3" height="19" fill="#474747"/>
<rect x="746" y="270" width="1" height="4" fill="#000"/>
<rect x="746" y="311" width="1" height="10" fill="#000"/>
<rect x="745" y="274" width="3" height="37" fill="#000"/>
<rect x="746" y="275" width="1" height="35" fill="#fff"/>
<rect x="751" y="264" width="1" height="21" fill="#555555"/>
<rect x="750" y="271" width="3" height="4" fill="#474747"/>
<rect x="755" y="253" width="1" height="3" fill="#000"/>
<rect x="755" y="277" width="1" height="7" fill="#000"/>
<rect x="754" y="256" width="3" height="21" fill="#000"/>
<rect x="755" y="257" width="1" height="19" fill="#fff"/>
<rect x="759" y="219" width="1" height="8" fill="#000"/>
<rect x="759" y="255" width="1" height="7" fill="#000"/>
<rect x="758" y="227" width="3" height="28" fill="#000"/>
<rect x="759" y="228" width="1" height="26" fill="#fff"/>
<rect x="763" y="227" width="1" height="44" fill="#555555"/>
<rect x="762" y="228" width="3" height="42" fill="#474747"/>
<rect x="767" y="247" width="1" height="31" fill="#555555"/>
<rect x="766" y="270" width="3" height="1" fill="#474747"/>
<rect x="772" y="260" width="1" height="41" fill="#555555"/>
<rect x="771" y="272" width="3" height="24" fill="#474747"/>
<rect x="776" y="277" width="1" height="51" fill="#555555"/>
<rect x="775" y="292" width="3" height="27" fill="#474747"/>
<rect x="780" y="305" width="1" height="24" fill="#555555"/>
<rect x="779" y="322" width="3" height="3" fill="#474747"/>
<rect x="784" y="308" width="1" height="4" fill="#000"/>
<rect x="784" y="323" width="1" height="13" fill="#000"/>
<rect x="783" y="312" width="3" height="11" fill="#000"/>
<rect x="784" y="313" width="1" height="9" fill="#fff"/>
<rect x="788" y="322" width="1" height="3" fill="#000"/>
<rect x="788" y="335" width="1" height="11" fill="#000"/>
<rect x="787" y="325" width="3" height="10" fill="#000"/>
<rect x="788" y="326" width="1" height="8" fill="#fff"/>
<rect x="793" y="316" width="1" height="43" fill="#555555"/>
<rect x="792" y="329" width="3" height="20" fill="#474747"/>
<rect x="797" y="317" width="1" height="5" fill="#000"/>
<rect x="797" y="352" width="1" height="8" fill="#000"/>
<rect x="796" y="322" width="3" height="30" fill="#000"/>
<rect x="797" y="323" width="1" height="28" fill="#fff"/>
<rect x="801" y="303" width="1" height="5" fill="#000"/>
<rect x="801" y="326" width="1" height="1" fill="#000"/>
<rect x="800" y="308" width="3" height="18" fill="#000"/>
<rect x="801" y="309" width="1" height="16" fill="#fff"/>
<rect x="805" y="294" width="1" height="28" fill="#555555"/>
<rect x="804" y="306" width="3" height="9" fill="#474747"/>
<rect x="810" y="309" width="1" height="20" fill="#555555"/>
<rect x="808" y="313" width="3" height="5" fill="#474747"/>
<rect x="814" y="288" width="1" height="18" fill="#000"/>
<rect x="814" y="316" width="1" height="2" fill="#000"/>
<rect x="813" y="306" width="3" height="10" fill="#000"/>
<rect x="814" y="307" width="1" height="8" fill="#fff"/>
<rect x="818" y="295" width="1" height="37" fill="#555555"/>
<rect x="817" y="305" width="3" height="20" fill="#474747"/>
<rect x="822" y="319" width="1" height="34" fill="#555555"/>
<rect x="821" y="327" width="3" height="21" fill="#474747"/>
<rect x="826" y="323" width="1" height="10" fill="#000"/>
<rect x="826" y="346" width="1" height="3" fill="#000"/>
<rect x="825" y="333" width="3" height="13" fill="#000"/>
<rect x="826" y="334" width="1" height="11" fill="#fff"/>
<rect x="830" y="327" width="1" height="19" fill="#000"/>
<rect x="829" y="332" width="3" height="1" fill="#000"/>
<rect x="835" y="278" width="1" height="13" fill="#000"/>
<rect x="835" y="322" width="1" height="7" fill="#000"/>
<rect x="834" y="291" width="3" height="31" fill="#000"/>
<rect x="835" y="292" width="1" height="29" fill="#fff"/>
<rect x="839" y="266" width="1" height="6" fill="#000"/>
<rect x="839" y="294" width="1" height="3" fill="#000"/>
<rect x="838" y="272" width="3" height="22" fill="#000"/>
<rect x="839" y="273" width="1" height="20" fill="#fff"/>
<rect x="843" y="262" width="1" height="46" fill="#555555"/>
<rect x="842" y="272" width="3" height="32" fill="#474747"/>
<rect x="847" y="301" width="1" height="24" fill="#555555"/>
<rect x="846" y="310" width="3" height="11" fill="#474747"/>
<rect x="852" y="312" width="1" height="38" fill="#555555"/>
<rect x="850" y="321" width="3" height="27" fill="#474747"/>
<rect x="856" y="293" width="1" height="21" fill="#000"/>
<rect x="856" y="350" width="1" height="8" fill="#000"/>
<rect x="855" y="314" width="3" height="36" fill="#000"/>
<rect x="856" y="315" width="1" height="34" fill="#fff"/>
<rect x="860" y="297" width="1" height="5" fill="#000"/>
<rect x="860" y="312" width="1" height="11" fill="#000"/>
<rect x="859" y="302" width="3" height="10" fill="#000"/>
<rect x="860" y="303" width="1" height="8" fill="#fff"/>
<rect x="864" y="280" width="1" height="2" fill="#000"/>
<rect x="863" y="282" width="3" height="20" fill="#000"/>
<rect x="864" y="283" width="1" height="18" fill="#fff"/>
<rect x="868" y="273" width="1" height="21" fill="#555555"/>
<rect x="867" y="281" width="3" height="1" fill="#474747"/>
<rect x="872" y="265" width="1" height="8" fill="#000"/>
<rect x="872" y="281" width="1" height="7" fill="#000"/>
<rect x="871" y="273" width="3" height="8" fill="#000"/>
<rect x="872" y="274" width="1" height="6" fill="#fff"/>
<rect x="877" y="268" width="1" height="24" fill="#000"/>
<rect x="876" y="275" width="3" height="1" fill="#000"/>
<rect x="881" y="257" width="1" height="11" fill="#000"/>
<rect x="881" y="274" width="1" height="4" fill="#000"/>
<rect x="880" y="268" width="3" height="6" fill="#000"/>
<rect x="881" y="269" width="1" height="4" fill="#fff"/>
<rect x="885" y="265" width="1" height="32" fill="#555555"/>
<rect x="884" y="267" width="3" height="25" fill="#474747"/>
<rect x="890" y="290" width="1" height="17" fill="#555555"/>
<rect x="888" y="292" width="3" height="6" fill="#474747"/>
<rect x="893" y="276" width="1" height="3" fill="#000"/>
<rect x="892" y="279" width="3" height="19" fill="#000"/>
<rect x="893" y="280" width="1" height="17" fill="#fff"/>
<rect x="898" y="240" width="1" height="7" fill="#000"/>
<rect x="898" y="269" width="1" height="6" fill="#000"/>
<rect x="897" y="247" width="3" height="22" fill="#000"/>
<rect x="898" y="248" width="1" height="20" fill="#fff"/>
<rect x="902" y="241" width="1" height="14" fill="#555555"/>
<rect x="901" y="243" width="3" height="4" fill="#474747"/>
<rect x="906" y="229" width="1" height="13" fill="#000"/>
<rect x="906" y="251" width="1" height="1" fill="#000"/>
<rect x="905" y="242" width="3" height="9" fill="#000"/>
<rect x="906" y="243" width="1" height="7" fill="#fff"/>
<rect x="910" y="234" width="1" height="17" fill="#555555"/>
<rect x="909" y="242" width="3" height="1" fill="#474747"/>
<rect x="914" y="220" width="1" height="3" fill="#000"/>
<rect x="914" y="240" width="1" height="12" fill="#000"/>
<rect x="913" y="223" width="3" height="17" fill="#000"/>
<rect x="914" y="224" width="1" height="15" fill="#fff"/>
<rect x="919" y="201" width="1" height="4" fill="#000"/>
<rect x="919" y="222" width="1" height="5" fill="#000"/>
<rect x="918" y="205" width="3" height="17" fill="#000"/>
<rect x="919" y="206" width="1" height="15" fill="#fff"/>
<rect x="923" y="204" width="1" height="49" fill="#555555"/>
<rect x="922" y="205" width="3" height="47" fill="#474747"/>
<rect x="927" y="243" width="1" height="35" fill="#555555"/>
<rect x="926" y="252" width="3" height="18" fill="#474747"/>
<rect x="931" y="249" width="1" height="2" fill="#000"/>
<rect x="931" y="271" width="1" height="1" fill="#000"/>
<rect x="930" y="251" width="3" height="20" fill="#000"/>
<rect x="931" y="252" width="1" height="18" fill="#fff"/>
<rect x="935" y="239" width="1" height="4" fill="#000"/>
<rect x="935" y="251" width="1" height="14" fill="#000"/>
<rect x="934" y="243" width="3" height="8" fill="#000"/>
<rect x="935" y="244" width="1" height="6" fill="#fff"/>
<rect x="940" y="232" width="1" height="6" fill="#000"/>
<rect x="940" y="242" width="1" height="9" fill="#000"/>
<rect x="939" y="238" width="3" height="4" fill="#000"/>
<rect x="940" y="239" width="1" height="2" fill="#fff"/>
<rect x="944" y="236" width="1" height="10" fill="#000"/>
<rect x="943" y="220" width="3" height="16" fill="#000"/>
<rect x="944" y="221" width="1" height="14" fill="#fff"/>
<rect x="948" y="205" width="1" height="10" fill="#000"/>
<rect x="948" y="219" width="1" height="2" fill="#000"/>
<rect x="947" y="215" width="3" height="4" fill="#000"/>
<rect x="948" y="216" width="1" height="2" fill="#fff"/>
<rect x="953" y="205" width="1" height="27" fill="#555555"/>
<rect x="951" y="217" width="3" height="7" fill="#474747"/>
<rect x="956" y="192" width="1" height="23" fill="#000"/>
<rect x="956" y="225" width="1" height="1" fill="#000"/>
<rect x="955" y="215" width="3" height="10" fill="#000"/>
<rect x="956" y="216" width="1" height="8" fill="#fff"/>
<rect x="961" y="203" width="1" height="35" fill="#555555"/>
<rect x="960" y="212" width="3" height="26" fill="#474747"/>
<rect x="965" y="223" width="1" height="3" fill="#000"/>
<rect x="965" y="236" width="1" height="7" fill="#000"/>
<rect x="964" y="226" width="3" height="10" fill="#000"/>
<rect x="965" y="227" width="1" height="8" fill="#fff"/>
<rect x="969" y="221" width="1" height="26" fill="#555555"/>
<rect x="968" y="224" width="3" height="21" fill="#474747"/>
<rect x="973" y="215" width="1" height="9" fill="#000"/>
<rect x="973" y="244" width="1" height="4" fill="#000"/>
<rect x="972" y="224" width="3" height="20" fill="#000"/>
<rect x="973" y="225" width="1" height="18" fill="#fff"/>
<rect x="978" y="218" width="1" height="34" fill="#555555"/>
<rect x="976" y="224" width="3" height="28" fill="#474747"/>
<rect x="982" y="229" width="1" height="1" fill="#000"/>
<rect x="982" y="252" width="1" height="1" fill="#000"/>
<rect x="981" y="230" width="3" height="22" fill="#000"/>
<rect x="982" y="231" width="1" height="20" fill="#fff"/>
<rect x="986" y="219" width="1" height="2" fill="#000"/>
<rect x="986" y="232" width="1" height="6" fill="#000"/>
<rect x="985" y="221" width="3" height="11" fill="#000"/>
<rect x="986" y="222" width="1" height="9" fill="#fff"/>
<rect x="990" y="210" width="1" height="5" fill="#000"/>
<rect x="990" y="219" width="1" height="3" fill="#000"/>
<rect x="989" y="215" width="3" height="4" fill="#000"/>
<rect x="990" y="216" width="1" height="2" fill="#fff"/>
<rect x="994" y="203" width="1" height="3" fill="#000"/>
<rect x="994" y="216" width="1" height="13" fill="#000"/>
<rect x="993" y="206" width="3" height="10" fill="#000"/>
<rect x="994" y="207" width="1" height="8" fill="#fff"/>
<rect x="998" y="189" width="1" height="7" fill="#000"/>
<rect x="998" y="212" width="1" height="7" fill="#000"/>
<rect x="997" y="196" width="3" height="16" fill="#000"/>
<rect x="998" y="197" width="1" height="14" fill="#fff"/>
<rect x="1003" y="182" width="1" height="7" fill="#000"/>
<rect x="1003" y="196" width="1" height="5" fill="#000"/>
<rect x="1002" y="189" width="3" height="7" fill="#000"/>
<rect x="1003" y="190" width="1" height="5" fill="#fff"/>
<rect x="1007" y="185" width="1" height="27" fill="#555555"/>
<rect x="1006" y="189" width="3" height="18" fill="#474747"/>
<rect x="1011" y="195" width="1" height="23" fill="#555555"/>
<rect x="1010" y="206" width="3" height="7" fill="#474747"/>
<rect x="1016" y="203" width="1" height="21" fill="#555555"/>
<rect x="1014" y="212" width="3" height="8" fill="#474747"/>
<rect x="1020" y="191" width="1" height="3" fill="#000"/>
<rect x="1019" y="194" width="3" height="27" fill="#000"/>
<rect x="1020" y="195" width="1" height="25" fill="#fff"/>
<rect x="1024" y="197" width="1" height="10" fill="#555555"/>
<rect x="1023" y="200" width="3" height="4" fill="#474747"/>
<rect x="1028" y="198" width="1" height="3" fill="#000"/>
<rect x="1028" y="204" width="1" height="4" fill="#000"/>
<rect x="1027" y="201" width="3" height="3" fill="#000"/>
<rect x="1028" y="202" width="1" height="1" fill="#fff"/>
<rect x="1032" y="193" width="1" height="3" fill="#000"/>
<rect x="1032" y="199" width="1" height="10" fill="#000"/>
<rect x="1031" y="196" width="3" height="3" fill="#000"/>
<rect x="1032" y="197" width="1" height="1" fill="#fff"/>
<rect x="1037" y="178" width="1" height="36" fill="#555555"/>
<rect x="1035" y="194" width="3" height="19" fill="#474747"/>
<rect x="1041" y="210" width="1" height="18" fill="#555555"/>
<rect x="1040" y="213" width="3" height="8" fill="#474747"/>
<rect x="1045" y="216" width="1" height="17" fill="#555555"/>
<rect x="1044" y="222" width="3" height="9" fill="#474747"/>
<rect x="1049" y="225" width="1" height="12" fill="#000"/>
<rect x="1048" y="231" width="3" height="1" fill="#000"/>
<rect x="1053" y="224" width="1" height="25" fill="#000"/>
<rect x="1052" y="230" width="3" height="1" fill="#000"/>
<rect x="1058" y="225" width="1" height="22" fill="#555555"/>
<rect x="1056" y="229" width="3" height="14" fill="#474747"/>
<rect x="1062" y="229" width="1" height="7" fill="#000"/>
<rect x="1062" y="243" width="1" height="5" fill="#000"/>
<rect x="1061" y="236" width="3" height="7" fill="#000"/>
<rect x="1062" y="237" width="1" height="5" fill="#fff"/>
<rect x="1066" y="228" width="1" height="1" fill="#000"/>
<rect x="1066" y="236" width="1" height="3" fill="#000"/>
<rect x="1065" y="229" width="3" height="7" fill="#000"/>
<rect x="1066" y="230" width="1" height="5" fill="#fff"/>
<rect x="1070" y="221" width="1" height="16" fill="#555555"/>
<rect x="1069" y="229" width="3" height="6" fill="#474747"/>
<rect x="1074" y="228" width="1" height="10" fill="#555555"/>
<rect x="1073" y="233" width="3" height="2" fill="#474747"/>
<rect x="1079" y="231" width="1" height="20" fill="#555555"/>
<rect x="1077" y="235" width="3" height="11" fill="#474747"/>
<rect x="1083" y="242" width="1" height="19" fill="#555555"/>
<rect x="1082" y="246" width="3" height="14" fill="#474747"/>
<rect x="1087" y="258" width="1" height="11" fill="#555555"/>
<rect x="1086" y="260" width="3" height="1" fill="#474747"/>
<rect x="1091" y="260" width="1" height="14" fill="#555555"/>
<rect x="1090" y="260" width="3" height="2" fill="#474747"/>
<rect x="1095" y="262" width="1" height="11" fill="#555555"/>
<rect x="1094" y="263" width="3" height="2" fill="#474747"/>
<rect x="1100" y="265" width="1" height="25" fill="#555555"/>
<rect x="1098" y="266" width="3" height="22" fill="#474747"/>
<rect x="1104" y="291" width="1" height="11" fill="#555555"/>
<rect x="1103" y="294" width="3" height="8" fill="#474747"/>
<rect x="1108" y="300" width="1" height="34" fill="#555555"/>
<rect x="1107" y="304" width="3" height="26" fill="#474747"/>
<rect x="1112" y="326" width="1" height="17" fill="#555555"/>
<rect x="1111" y="328" width="3" height="2" fill="#474747"/>
<rect x="1116" y="324" width="1" height="24" fill="#555555"/>
<rect x="1115" y="327" width="3" height="19" fill="#474747"/>
<rect x="1121" y="338" width="1" height="32" fill="#555555"/>
<rect x="1119" y="347" width="3" height="21" fill="#474747"/>
<rect x="1125" y="365" width="1" height="29" fill="#555555"/>
<rect x="1124" y="370" width="3" height="24" fill="#474747"/>
<rect x="1129" y="354" width="1" height="27" fill="#000"/>
<rect x="1129" y="393" width="1" height="1" fill="#000"/>
<rect x="1128" y="381" width="3" height="12" fill="#000"/>
<rect x="1129" y="382" width="1" height="10" fill="#fff"/>
<rect x="1133" y="340" width="1" height="19" fill="#000"/>
<rect x="1132" y="359" width="3" height="18" fill="#000"/>
<rect x="1133" y="360" width="1" height="16" fill="#fff"/>
<rect x="1137" y="347" width="1" height="33" fill="#555555"/>
<rect x="1136" y="360" width="3" height="11" fill="#474747"/>
<rect x="1142" y="357" width="1" height="41" fill="#555555"/>
<rect x="1140" y="371" width="3" height="21" fill="#474747"/>
<rect x="1146" y="385" width="1" height="30" fill="#555555"/>
<rect x="1145" y="394" width="3" height="8" fill="#474747"/>
<rect x="1150" y="390" width="1" height="2" fill="#000"/>
<rect x="1150" y="400" width="1" height="12" fill="#000"/>
<rect x="1149" y="392" width="3" height="8" fill="#000"/>
<rect x="1150" y="393" width="1" height="6" fill="#fff"/>
<rect x="1154" y="383" width="1" height="30" fill="#555555"/>
<rect x="1153" y="392" width="3" height="20" fill="#474747"/>
<rect x="1158" y="392" width="1" height="14" fill="#000"/>
<rect x="1157" y="406" width="3" height="9" fill="#000"/>
<rect x="1158" y="407" width="1" height="7" fill="#fff"/>
<rect x="1163" y="396" width="1" height="33" fill="#555555"/>
<rect x="1161" y="401" width="3" height="26" fill="#474747"/>
<rect x="1167" y="397" width="1" height="6" fill="#000"/>
<rect x="1167" y="427" width="1" height="3" fill="#000"/>
<rect x="1166" y="403" width="3" height="24" fill="#000"/>
<rect x="1167" y="404" width="1" height="22" fill="#fff"/>
<rect x="1171" y="386" width="1" height="44" fill="#555555"/>
<rect x="1170" y="400" width="3" height="27" fill="#474747"/>
</g>
<path d="M2.5 195.6C4.1 194.8 8.1 193.4 11.9 190.6C15.7 187.8 20.5 183.3 25.4 178.7C30.2 174.1 36.3 167.3 41.0 162.8C45.7 158.3 49.6 155.2 53.7 151.6C57.8 148.0 63.0 143.3 65.7 141.2C68.4 139.1 67.4 139.6 70.1 139.0C72.8 138.4 78.6 138.3 82.1 137.9C85.6 137.5 88.5 136.4 91.0 136.4C93.5 136.4 94.8 136.7 97.0 137.9C99.2 139.1 101.3 141.0 104.5 143.4C107.7 145.8 112.9 150.2 116.4 152.4C119.9 154.7 121.9 154.5 125.4 156.9C128.9 159.3 134.3 164.3 137.3 166.6C140.3 168.8 140.4 168.3 143.3 170.4C146.2 172.5 150.5 174.3 154.5 179.4C158.5 184.5 163.1 193.0 167.2 201.0C171.3 209.0 175.4 220.2 179.1 227.2C182.8 234.2 186.6 238.8 189.6 242.8C192.6 246.8 193.8 248.5 197.0 251.2C200.2 253.8 206.3 257.3 209.0 258.7C211.7 260.1 210.4 257.3 213.4 259.4C216.4 261.5 222.8 268.3 226.9 271.3C231.0 274.3 235.2 276.6 238.1 277.3C240.9 278.1 241.2 277.3 244.0 275.8C246.8 274.3 251.2 271.2 255.2 268.4C259.2 265.5 264.4 260.8 267.9 258.7C271.4 256.6 273.0 256.2 276.1 256.1C279.2 256.0 283.1 257.0 286.6 257.9C290.1 258.8 294.5 261.0 297.0 261.6C299.5 262.2 300.2 261.1 301.8 261.6C303.4 262.1 304.6 264.1 306.3 264.6C308.0 265.1 310.0 265.0 312.2 264.6C314.4 264.2 316.7 262.9 319.7 262.1C322.7 261.3 326.1 261.5 330.1 259.9C334.1 258.3 339.4 255.3 343.6 252.4C347.8 249.5 351.5 246.4 355.5 242.7C359.5 239.0 364.5 233.5 367.5 230.0C370.5 226.5 369.9 224.6 373.3 221.8C376.8 219.0 384.7 215.5 388.2 213.1C391.7 210.7 391.2 209.3 394.2 207.2C397.2 205.1 403.2 202.2 406.1 200.4C409.0 198.6 409.1 197.6 411.3 196.4C413.6 195.2 416.5 194.6 419.6 193.0C422.7 191.4 427.4 188.3 430.0 187.0C432.6 185.7 432.5 186.2 434.9 184.9C437.3 183.6 442.4 180.3 444.6 179.3C446.9 178.3 446.3 178.4 448.4 178.7C450.5 179.0 453.8 179.5 457.3 181.2C460.8 182.9 465.9 187.7 469.3 189.1C472.7 190.5 475.4 189.6 477.5 189.4C479.6 189.2 479.8 188.1 481.9 188.2C484.0 188.3 487.2 188.8 490.1 190.1C493.0 191.4 496.2 194.5 499.1 196.1C502.0 197.7 504.1 197.4 507.3 199.9C510.5 202.4 514.4 206.4 518.5 211.0C522.6 215.6 526.7 223.1 531.9 227.5C537.1 231.9 546.2 235.5 549.9 237.2C553.6 238.9 551.6 236.8 554.3 237.9C557.0 239.0 562.9 242.5 566.3 243.9C569.7 245.3 571.5 244.9 574.5 246.1C577.5 247.3 580.9 249.8 584.2 251.3C587.6 252.8 591.3 253.4 594.6 255.1C597.9 256.8 600.6 258.4 604.2 261.7C607.8 265.0 611.9 271.0 616.1 275.1C620.3 279.2 625.6 282.5 629.6 286.6C633.6 290.7 636.6 295.7 640.0 299.8C643.4 303.9 646.7 307.6 650.0 311.0C653.3 314.4 656.8 317.7 660.0 319.9C663.2 322.1 665.8 323.7 669.0 324.3C672.2 324.9 674.2 323.5 679.4 323.6C684.6 323.7 694.6 324.3 700.3 325.1C706.0 325.9 709.5 328.0 713.7 328.5C717.9 329.0 721.1 328.8 725.7 328.1C730.3 327.4 736.8 325.8 741.3 324.3C745.8 322.8 749.1 320.8 752.5 319.1C755.9 317.4 758.5 315.6 761.5 314.3C764.5 313.1 766.2 311.9 770.4 311.6C774.6 311.3 782.9 312.3 786.9 312.7C790.9 313.1 789.6 313.6 794.3 313.9C799.0 314.2 810.0 313.9 815.2 314.3C820.4 314.8 822.7 316.2 825.7 316.6C828.7 317.0 830.9 317.0 833.1 316.6C835.3 316.2 836.6 314.6 839.1 314.2C841.6 313.8 845.6 314.1 848.1 314.3C850.6 314.6 851.7 315.7 854.0 315.7C856.3 315.7 857.4 315.4 861.9 314.2C866.4 312.9 876.3 309.4 881.3 308.2C886.3 306.9 887.1 308.3 891.8 306.7C896.5 305.1 905.0 301.0 909.7 298.5C914.4 296.0 917.1 292.9 920.1 291.5C923.1 290.1 924.4 290.9 927.6 290.0C930.9 289.1 934.6 288.1 939.6 285.8C944.6 283.5 951.5 278.7 957.5 276.1C963.5 273.5 969.7 272.1 975.4 270.1C981.1 268.1 987.1 266.3 991.8 264.2C996.5 262.1 999.7 259.4 1003.7 257.5C1007.7 255.6 1010.7 254.8 1015.7 252.8C1020.7 250.8 1028.6 247.0 1033.6 245.4C1038.5 243.8 1041.0 243.6 1045.4 243.1C1049.9 242.6 1055.1 242.6 1060.3 242.3C1065.5 242.0 1071.7 241.2 1076.7 241.4C1081.7 241.6 1086.1 242.6 1090.1 243.4C1094.1 244.2 1096.6 244.3 1100.6 246.3C1104.6 248.3 1110.8 253.3 1114.0 255.5C1117.2 257.7 1117.5 257.5 1119.7 259.5C1121.9 261.5 1124.2 265.0 1127.2 267.7C1130.2 270.4 1133.9 272.4 1137.6 275.9C1141.3 279.4 1145.4 284.2 1149.6 288.6C1153.8 293.0 1159.3 298.5 1163.0 302.0C1166.7 305.5 1170.2 308.2 1171.6 309.5" fill="none" stroke="#f4431f" stroke-width="0.95" stroke-linejoin="round"/>
<path d="M2.5 190.8C4.1 188.9 8.7 184.5 11.9 179.4C15.1 174.3 19.6 164.0 21.6 160.0C23.6 156.0 20.7 161.4 23.9 155.4C27.1 149.4 36.0 132.1 41.0 124.0C46.0 115.9 49.6 112.1 53.7 106.9C57.8 101.7 63.1 95.2 65.7 92.7C68.3 90.2 67.9 91.1 69.4 91.6C70.9 92.1 72.2 94.2 74.6 95.7C77.0 97.2 80.9 99.5 83.6 100.9C86.3 102.3 88.9 102.5 91.0 103.9C93.1 105.3 94.0 105.4 96.3 109.1C98.5 112.8 101.7 120.0 104.5 126.3C107.3 132.7 110.9 141.7 113.4 147.2C115.9 152.7 117.4 156.0 119.4 159.1C121.4 162.2 123.2 162.4 125.4 165.8C127.6 169.2 131.3 176.5 132.8 179.3C134.3 182.1 132.6 179.8 134.3 182.4C136.1 185.0 139.9 190.4 143.3 195.1C146.7 199.8 151.5 204.4 154.5 210.7C157.5 217.0 158.8 225.0 161.2 233.1C163.6 241.2 167.2 253.7 168.7 259.3C170.2 264.9 168.4 259.4 170.1 266.9C171.8 274.4 176.1 294.8 179.1 304.2C182.1 313.6 185.2 318.8 188.1 323.6C191.0 328.5 193.6 331.6 196.3 333.3C199.0 335.0 202.3 334.2 204.5 334.0C206.7 333.8 208.2 332.8 209.7 331.8C211.2 330.8 212.0 328.1 213.4 327.8C214.8 327.6 215.7 328.9 217.9 330.3C220.2 331.7 224.0 334.9 226.9 336.3C229.8 337.7 232.9 338.9 235.1 338.8C237.3 338.7 238.7 338.0 240.3 335.5C241.9 333.0 242.3 330.3 244.8 323.6C247.3 316.9 251.3 304.6 255.2 295.2C259.0 285.8 264.4 272.9 267.9 266.9C271.4 260.9 273.9 260.1 276.1 259.4C278.3 258.6 279.3 261.6 281.3 262.4C283.3 263.1 285.5 262.5 288.1 263.9C290.7 265.3 294.7 269.9 297.0 271.0C299.3 272.1 300.1 269.7 301.8 270.6C303.5 271.6 305.6 275.8 307.0 276.7C308.4 277.6 308.2 277.2 310.0 276.0C311.8 274.8 314.1 272.2 317.5 269.6C320.9 267.0 325.8 265.0 330.1 260.6C334.5 256.2 340.0 248.5 343.6 243.4C347.2 238.3 350.1 233.1 351.8 230.0C353.5 226.9 351.8 229.7 353.9 225.1C356.0 220.5 361.1 210.2 364.3 202.7C367.5 195.2 371.1 184.8 373.3 180.3C375.6 175.8 375.6 177.0 377.8 175.5C380.0 174.0 384.0 173.7 386.7 171.3C389.4 168.9 391.7 163.5 394.2 160.9C396.7 158.3 399.5 156.8 401.6 155.7C403.7 154.6 405.3 155.6 406.9 154.6C408.5 153.6 409.2 150.5 411.3 149.7C413.4 148.9 416.9 150.5 419.6 149.7C422.3 148.9 424.9 145.8 427.5 144.9C430.1 144.0 432.0 145.3 434.9 144.2C437.8 143.1 442.4 139.2 444.6 138.5C446.9 137.8 447.1 138.2 448.4 139.7C449.6 141.1 450.6 145.0 452.1 147.2C453.6 149.4 455.2 149.3 457.3 153.1C459.4 156.9 462.7 165.6 464.8 170.0C466.9 174.4 467.9 177.6 470.0 179.5C472.1 181.4 475.5 181.6 477.5 181.6C479.5 181.6 479.8 178.9 481.9 179.3C484.0 179.7 487.2 180.9 490.1 184.2C493.0 187.5 496.2 194.8 499.1 199.1C502.0 203.4 504.1 204.5 507.3 210.3C510.5 216.2 515.1 226.5 518.5 234.2C521.9 241.9 525.2 251.2 527.5 256.6C529.8 262.1 529.7 263.9 532.5 266.9C535.3 269.9 541.6 272.6 544.5 274.4C547.4 276.1 548.1 277.3 549.7 277.4C551.3 277.5 551.3 274.4 554.2 275.1C557.1 275.8 563.4 280.5 566.9 281.6C570.4 282.7 572.4 281.2 575.1 281.9C577.8 282.6 580.6 285.2 583.3 286.0C586.0 286.8 589.4 286.1 591.5 286.6C593.6 287.2 593.9 287.1 596.0 289.3C598.1 291.5 600.9 294.2 604.2 299.8C607.6 305.4 611.9 316.7 616.1 322.9C620.3 329.1 625.1 330.2 629.6 337.1C634.1 344.0 638.3 356.9 643.3 364.3C648.3 371.7 656.0 378.5 659.7 381.5C663.4 384.5 663.7 382.9 665.7 382.5C667.7 382.1 669.4 381.3 671.6 379.0C673.8 376.7 676.4 371.6 679.1 368.8C681.9 366.0 684.6 364.7 688.1 362.1C691.6 359.5 697.3 354.8 700.3 353.4C703.3 351.9 704.2 353.2 706.3 353.4C708.4 353.6 709.8 355.4 713.0 354.5C716.2 353.6 721.0 351.7 725.7 348.2C730.4 344.7 736.8 338.0 741.3 333.3C745.8 328.6 749.4 324.1 752.5 319.9C755.6 315.7 757.0 311.0 760.0 307.9C763.0 304.8 767.4 302.1 770.4 301.5C773.4 300.9 775.1 303.2 777.9 304.0C780.6 304.8 784.2 304.8 786.9 306.0C789.6 307.2 791.6 310.3 794.3 311.5C797.0 312.7 799.8 312.8 803.3 313.0C806.8 313.2 812.0 312.1 815.2 312.7C818.4 313.3 820.1 315.5 822.7 316.6C825.3 317.7 828.2 319.7 830.9 319.1C833.6 318.5 836.6 314.2 839.1 313.1C841.6 312.0 843.6 312.0 845.8 312.4C848.0 312.8 850.3 315.3 852.5 315.7C854.7 316.1 854.2 317.6 859.0 314.9C863.8 312.2 875.5 302.3 881.3 299.3C887.1 296.3 889.3 300.0 894.0 297.0C898.7 294.0 905.5 286.0 909.7 281.3C913.9 276.6 916.4 271.1 919.4 268.7C922.4 266.3 924.5 268.1 927.6 267.2C930.7 266.3 933.1 266.4 938.1 263.1C943.1 259.8 952.5 250.7 957.5 247.6C962.5 244.5 963.9 245.3 967.9 244.6C971.9 243.8 977.1 244.3 981.3 243.1C985.5 241.9 989.6 239.8 993.3 237.2C997.0 234.6 1000.0 229.6 1003.7 227.5C1007.4 225.4 1011.0 226.3 1015.7 224.5C1020.4 222.7 1028.1 218.0 1032.1 216.6C1036.1 215.2 1036.1 215.8 1039.6 216.3C1043.0 216.8 1049.3 218.5 1052.8 219.5C1056.2 220.5 1057.1 221.6 1060.3 222.5C1063.5 223.4 1069.0 223.8 1072.2 224.7C1075.4 225.6 1075.7 225.3 1079.7 227.7C1083.7 230.1 1092.1 235.6 1096.1 238.9C1100.1 242.2 1101.6 245.1 1103.6 247.8C1105.5 250.5 1105.6 251.4 1107.8 255.0C1110.0 258.6 1113.7 263.2 1116.7 269.2C1119.7 275.2 1123.5 285.8 1125.7 290.8C1127.9 295.8 1127.9 295.4 1130.1 299.0C1132.3 302.6 1136.1 307.9 1139.1 312.5C1142.1 317.1 1145.4 322.1 1148.1 326.6C1150.8 331.1 1153.0 335.1 1155.5 339.3C1158.0 343.5 1160.4 347.6 1163.1 351.6C1165.8 355.6 1170.3 361.2 1171.8 363.1" fill="none" stroke="#2150dc" stroke-width="1.05" stroke-linejoin="round"/>
<line x1="179.6" y1="487.3" x2="1308" y2="424.3" stroke="#ff0000" stroke-width="1.15"/>
<line x1="1040" y1="177" x2="1187.6" y2="373.6" stroke="#ff0000" stroke-width="1.25"/>
<rect x="0" y="426" width="1309" height="1" fill="#555" shape-rendering="crispEdges"/>
<g shape-rendering="crispEdges">
<rect x="1127" y="381" width="181" height="2" fill="#006400"/>
<rect x="1123" y="394" width="185" height="2" fill="#006400"/>
<rect x="1152" y="407" width="156" height="2" fill="#006400"/>
<rect x="1144" y="415" width="164" height="2" fill="#0a6236"/>
<rect x="657" y="430" width="651" height="2" fill="#006400"/>
<rect x="644" y="461" width="664" height="2" fill="#006400"/>
<rect x="178" y="487" width="1130" height="2" fill="#0a6236"/>
</g>
<path d="M3.1 554.3L7.3 552.6L11.5 553.7L15.7 540.5L19.9 533.2L24.1 534.9L28.3 543.7L32.5 539.5L36.7 535.3L40.9 533.8L45.1 544.1L49.3 548.5L53.5 543.2L57.7 548.5L61.9 547.2L66.1 552.6L70.3 567.7L74.6 584.0L78.8 588.8L83.0 586.5L87.2 583.4L91.4 579.8L95.6 590.7L99.8 599.0L104.0 604.0L108.2 600.5L112.4 595.9L116.6 590.7L120.8 584.4L125.0 577.1L129.2 576.5L133.4 581.3L137.6 576.5L141.8 576.0L146.0 569.4L150.2 574.0L154.4 575.0L158.6 589.0L162.8 595.3L167.0 596.9L171.2 597.6L175.4 600.7L179.6 595.9L183.8 583.4L188.0 578.1L192.2 572.9L196.4 565.6L200.6 556.8L204.8 552.6L209.0 547.8L213.2 541.6L217.5 549.9L221.7 556.2L225.9 558.9L230.1 555.1L234.3 558.9L238.5 548.9L242.7 528.4L246.9 516.5L251.1 515.0L255.3 521.3L259.5 531.1L263.7 535.7L267.9 534.3L272.1 544.7L276.3 554.1L280.5 565.2L284.7 573.5L288.9 574.6L293.1 576.0L297.3 581.3L301.5 575.6L305.7 582.3L309.9 575.6L314.1 561.4L318.3 552.6L322.5 548.5L326.7 549.3L330.9 546.4L335.1 539.5L339.3 531.5L343.5 535.7L347.7 530.1L351.9 531.7L356.2 534.5L360.4 529.4L364.6 531.1L368.8 535.9L373.0 531.1L377.2 542.6L381.4 559.3L385.6 562.0L389.8 563.9L394.0 551.4L398.2 555.6L402.4 565.2L406.6 568.7L410.8 561.0L415.0 566.0L419.2 585.4L423.4 570.2L427.6 559.3L431.8 571.0L436.0 570.2L440.2 543.7L444.4 537.8L448.6 566.6L452.8 641.9L457.0 636.6L461.2 632.5L465.4 624.1L469.6 615.7L473.8 584.0L478.0 575.0L482.2 556.2L486.4 568.7L490.6 576.0L494.9 579.8L499.1 588.6L503.3 579.8L507.5 577.1L511.7 587.5L515.9 587.5L520.1 591.7L524.3 596.9L528.5 600.5L532.7 589.6L536.9 572.3L541.1 567.7L545.3 562.5L549.5 562.5L553.7 548.3L557.9 552.6L562.1 558.3L566.3 559.7L570.5 552.6L574.7 547.4L578.9 557.9L583.1 566.2L587.3 566.2L591.5 560.4L595.7 572.9L599.9 607.4L604.1 624.1L608.3 625.8L612.5 627.6L616.7 609.5L620.9 594.8L625.1 587.1L629.3 585.0L633.6 591.7L637.8 594.8L642.0 590.7L646.2 583.4L650.4 576.0L654.6 571.4L658.8 569.4L663.0 560.4L667.2 553.5L671.4 545.7L675.6 528.0L679.8 530.5L684.0 540.1L688.2 538.4L692.4 542.0L696.6 540.1L700.8 545.1L705.0 553.1L709.2 563.9L713.4 567.7L717.6 558.9L721.8 556.2L726.0 557.7L730.2 552.6L734.4 540.5L738.6 538.8L742.8 547.8L747.0 536.8L751.2 530.1L755.4 524.2L759.6 512.3L763.8 531.7L768.0 543.7L772.2 558.9L776.5 575.6L780.7 581.5L784.9 580.6L789.1 585.4L793.3 588.8L797.5 582.7L801.7 571.9L805.9 570.4L810.1 573.5L814.3 563.9L818.5 569.4L822.7 582.9L826.9 576.0L831.1 572.5L835.3 543.7L839.5 530.5L843.7 542.6L847.9 562.5L852.1 583.8L856.3 566.6L860.5 551.0L864.7 533.2L868.9 531.5L873.1 529.7L877.3 536.8L881.5 533.2L885.7 549.5L889.9 565.6L894.1 553.5L898.3 525.3L902.5 524.4L906.7 528.4L910.9 535.9L915.2 535.3L919.4 529.7L923.6 547.8L927.8 566.6L932.0 563.1L936.2 557.2L940.4 551.6L944.6 545.7L948.8 540.9L953.0 548.5L957.2 544.3L961.4 556.2L965.6 560.4L969.8 568.3L974.0 558.9L978.2 572.9L982.4 567.1L986.6 552.6L990.8 540.5L995.0 539.5L999.2 529.0L1003.4 519.0L1007.6 535.3L1011.8 546.4L1016.0 555.4L1020.2 534.7L1024.4 540.5L1028.6 544.7L1032.8 544.7L1037.0 552.6L1041.2 580.6L1045.4 588.6L1049.6 591.7L1053.8 592.3L1058.1 594.4L1062.3 589.2L1066.5 580.0L1070.7 577.3L1074.9 578.1L1079.1 585.2L1083.3 593.2L1087.5 594.8L1091.7 591.1L1095.9 586.5L1100.1 593.2L1104.3 600.7L1108.5 607.4L1112.7 605.3L1116.9 601.5L1121.1 602.8L1125.3 604.2L1129.5 592.8L1133.7 581.3L1137.9 579.6L1142.1 581.9L1146.3 584.4L1150.5 579.6L1154.7 577.5L1158.9 575.2L1163.1 576.5L1167.3 573.1" fill="none" stroke="#9acd24" stroke-width="1.2" stroke-linejoin="round"/>
<g shape-rendering="crispEdges">
<rect x="0" y="496" width="1364" height="3" fill="#c9c9c9"/>
<rect x="0" y="497" width="1364" height="1" fill="#e2e2e2"/>
<rect x="676" y="494" width="13" height="7" fill="#c4c4c4"/>
<rect x="677" y="495" width="11" height="5" fill="#fff"/>
<rect x="677" y="496" width="11" height="3" fill="#c9c9c9"/>
<rect x="677" y="497" width="11" height="1" fill="#e2e2e2"/>
</g>
<rect x="1306" y="374" width="55" height="65" rx="1.5" fill="#006400"/>
<rect x="1306" y="416" width="55" height="7" fill="#0a6236"/>
<rect x="1306" y="454" width="55" height="16" rx="1.5" fill="#006400"/>
<rect x="1306" y="480" width="55" height="16" rx="1.5" fill="#0a6236"/>
<g stroke="#808080" stroke-width="3.2" stroke-linecap="butt"><path d="M37.97 516.87 L44.13 523.03 M44.13 516.87 L37.97 523.03"/></g>
<circle cx="56.6" cy="518.0" r="3.05" fill="#808080"/>
<path d="M56.1 517.5 L53.0 514.4" stroke="#fff" stroke-width="2.0" stroke-linecap="butt"/>
<path d="M57.6 519.0 L61.3 523.1" stroke="#808080" stroke-width="2.7" stroke-linecap="round"/>
<rect x="0" y="668.7" width="1364" height="1.3" fill="#000"/>
</svg>
<div id="tm">1'15h</div>
<div id="tx">
<div id="ttl"><span>EURUSD W1</span></div>
<div id="cci">CCI</div>
<div class="pl" style="left:1315.4px;top:44.0px;color:#000">1.4869<span class="sm">5</span></div>
<div class="pl" style="left:1315.4px;top:94.0px;color:#000">1.4529<span class="sm">6</span></div>
<div class="pl" style="left:1315.4px;top:144.0px;color:#000">1.4189<span class="sm">7</span></div>
<div class="pl" style="left:1315.4px;top:193.0px;color:#000">1.3849<span class="sm">9</span></div>
<div class="pl" style="left:1315.4px;top:243.0px;color:#000">1.3510<span class="sm">0</span></div>
<div class="pl" style="left:1315.4px;top:293.0px;color:#000">1.3170<span class="sm">1</span></div>
<div class="pl" style="left:1315.4px;top:342.0px;color:#000">1.2830<span class="sm">3</span></div>
<div class="pl" style="left:1315.4px;top:442.0px;color:#000">1.2150<span class="sm">5</span></div>
<div class="pl" style="left:1314.5px;top:378.0px;color:#000">1.2600<span class="sm">0</span></div>
<div class="pl" style="left:1314.5px;top:391.0px;color:#000">1.2510<span class="sm">0</span></div>
<div class="pl" style="left:1314.5px;top:404.0px;color:#000">1.2420<span class="sm">0</span></div>
<div class="pl" style="left:1314.5px;top:427.0px;color:#000">1.2250<span class="sm">0</span></div>
<div class="pl" style="left:1314.5px;top:458.0px;color:#000">1.2050<span class="sm">0</span></div>
<div class="pl" style="left:1314.5px;top:484.0px;color:#000">1.1870<span class="sm">0</span></div>
<div style="position:absolute;left:1306px;top:416px;width:55px;height:12px;overflow:hidden"><div class="pl" style="left:8.5px;top:-4.0px;color:#000">1.2360<span class="sm">0</span></div></div>
<svg width="1364" height="670" viewBox="0 0 1364 670" style="position:absolute;left:0;top:0"><path d="M1308.5 426.3 L1316 418.5 L1363.5 418.5 L1363.5 433 L1315.6 433 Z" fill="#fff" stroke="#4a4a4a" stroke-width="1"/></svg>
<div class="pl" style="left:1317.4px;top:422.0px;color:#333">1.2294<span class="sm">9</span></div>
<div class="cl" style="left:1315.6px;top:498px">200.00</div>
<div class="cl" style="left:1315.6px;top:527px">100.00</div>
<div class="cl" style="left:1315.6px;top:556px">0.00</div>
<div class="cl" style="left:1315.6px;top:585px">-100.00</div>
<div class="cl" style="left:1315.6px;top:614px">-200.00</div>
<div class="dl" style="left:3.3px;top:656px">2009 Авг 16</div>
<div class="dl" style="left:104.3px;top:656px">2010 Янв 31</div>
<div class="dl" style="left:205.3px;top:656px">2010 Июл 18</div>
<div class="dl" style="left:305.3px;top:656px">2011 Янв 02</div>
<div class="dl" style="left:406.3px;top:656px">2011 Июн 19</div>
<div class="dl" style="left:507.3px;top:656px">2011 Дек 04</div>
<div class="dl" style="left:608.3px;top:656px">2012 Май 20</div>
<div class="dl" style="left:709.3px;top:656px">2012 Нбр 04</div>
<div class="dl" style="left:809.3px;top:656px">2013 Апр 21</div>
<div class="dl" style="left:910.3px;top:656px">2013 Окт 06</div>
<div class="dl" style="left:1011.3px;top:656px">2014 Мрт 23</div>
<div class="dl" style="left:1112.3px;top:656px">2014 Сен 07</div>
<div class="dl" style="left:1213.3px;top:656px">2015 Фев 22</div>
</div></div></body></html>
